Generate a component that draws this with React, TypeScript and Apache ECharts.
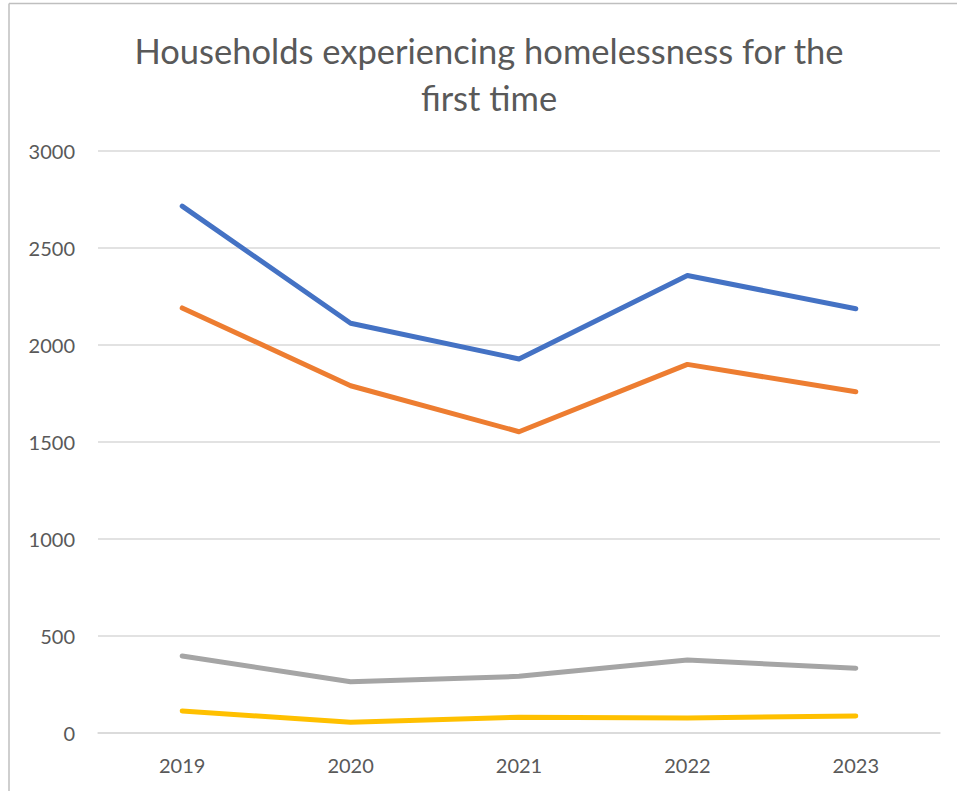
import React, { useEffect, useRef } from "react";
import * as echarts from "echarts";

const years = ["2019", "2020", "2021", "2022", "2023"];
const seriesBlue = [2716, 2112, 1928, 2358, 2187];
const seriesOrange = [2191, 1790, 1553, 1900, 1759];
const seriesGray = [397, 264, 292, 376, 334];
const seriesYellow = [114, 55, 81, 77, 88];
const yTicks = { min: 0, max: 3000, interval: 500 };

const FONT = "Lato";
const TEXT = "#595959";

export default function App() {
  const ref = useRef<HTMLDivElement>(null);
  useEffect(() => {
    if (!ref.current) return;
    const chart = echarts.init(ref.current, undefined, { renderer: "svg" });
    const mk = (name: string, data: number[], color: string) => ({
      name,
      type: "line",
      data,
      symbol: "none",
      lineStyle: { color, width: 5, cap: "round", join: "round" },
      itemStyle: { color },
    });
    chart.setOption({
      animation: false,
      backgroundColor: "#ffffff",
      title: {
        text: "Households experiencing homelessness for the\nfirst time",
        left: 489,
        top: 27,
        padding: 0,
        textAlign: "center",
        textStyle: {
          fontFamily: FONT,
          fontSize: 34.5,
          fontWeight: "normal",
          color: TEXT,
          lineHeight: 47,
        },
      },
      graphic: [
        {
          type: "line",
          shape: { x1: 9, y1: 3.5, x2: 960, y2: 3.5 },
          style: { stroke: "#bfbfbf", lineWidth: 1.5 },
        },
        {
          type: "line",
          shape: { x1: 9, y1: 3.5, x2: 9, y2: 800 },
          style: { stroke: "#bfbfbf", lineWidth: 1.5 },
        },
      ],
      grid: { left: 98, right: 17, top: 151, bottom: 58, containLabel: false },
      xAxis: {
        type: "category",
        data: years,
        boundaryGap: true,
        axisLine: { show: true, lineStyle: { color: "#d9d9d9", width: 1.5 } },
        axisTick: { show: false },
        axisLabel: { color: TEXT, fontFamily: FONT, fontSize: 20, margin: 22 },
      },
      yAxis: {
        type: "value",
        min: yTicks.min,
        max: yTicks.max,
        interval: yTicks.interval,
        axisLine: { show: false },
        axisTick: { show: false },
        splitLine: { lineStyle: { color: "#d9d9d9", width: 1.5 } },
        axisLabel: {
          color: TEXT,
          fontFamily: FONT,
          fontSize: 20,
          margin: 23,
          formatter: (v: number) => String(v),
        },
      },
      series: [
        mk("Blue", seriesBlue, "#4472C4"),
        mk("Orange", seriesOrange, "#ED7D31"),
        mk("Gray", seriesGray, "#A5A5A5"),
        mk("Yellow", seriesYellow, "#FFC000"),
      ],
    });
    return () => chart.dispose();
  }, []);
  return (
    <div
      ref={ref}
      style={{ position: "fixed", left: 0, top: 0, width: 957, height: 791 }}
    />
  );
}
